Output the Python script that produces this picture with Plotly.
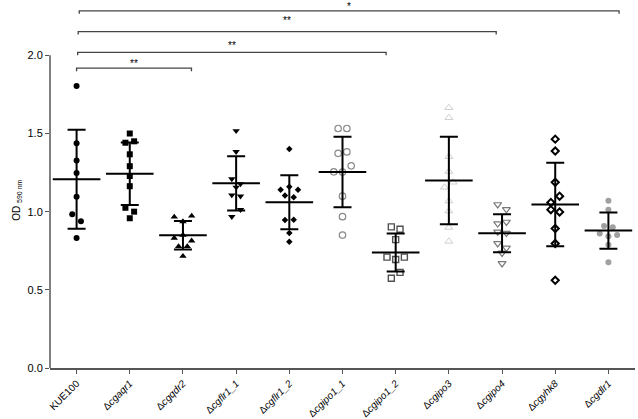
"""Biofilm OD590 scatter (mean +/- SD) per strain, with significance brackets."""

import numpy as np
import plotly.graph_objects as go

# ---- data (OD 590 nm), values listed row by row, left to right ----
strains = ["KUE100", "Δcgaqr1", "Δcgqdr2", "Δcgflr1_1", "Δcgflr1_2", "Δcgipo1_1",
           "Δcgipo1_2", "Δcgipo3", "Δcgipo4", "Δcgyhk8", "Δcgdlr1"]

kue100 = [1.804, 1.437, 1.327, 1.247, 1.095, 0.983, 0.939, 0.831]
cgaqr1 = [1.500, 1.441, 1.450, 1.367, 1.291, 1.228, 1.163, 1.025, 1.000, 0.958]
cgqdr2 = [0.966, 0.937, 0.973, 0.831, 0.850, 0.814, 0.778, 0.778, 0.715]
cgflr1_1 = [1.517, 1.384, 1.209, 1.177, 1.156, 1.106, 1.099, 0.968, 1.013]
cgflr1_2 = [1.401, 1.141, 1.160, 1.141, 1.103, 1.093, 0.947, 0.949, 0.863, 0.808]
cgipo1_1 = [1.532, 1.532, 1.373, 1.382, 1.255, 1.253, 1.293, 1.099, 0.968, 0.850]
cgipo1_2 = [0.903, 0.888, 0.821, 0.709, 0.694, 0.709, 0.574, 0.612]
cgipo3 = [1.665, 1.601, 1.352, 1.257, 1.156, 1.188, 1.068, 1.004, 0.899, 0.810]
cgipo4 = [1.046, 1.015, 0.924, 0.934, 0.871, 0.863, 0.797, 0.768, 0.736, 0.669]
cgyhk8 = [1.464, 1.388, 1.188, 1.059, 1.099, 1.013, 0.998, 0.892, 0.796, 0.561]
cgdlr1 = [1.070, 1.013, 0.909, 0.901, 0.861, 0.842, 0.850, 0.789, 0.677]

groups = [kue100, cgaqr1, cgqdr2, cgflr1_1, cgflr1_2, cgipo1_1,
          cgipo1_2, cgipo3, cgipo4, cgyhk8, cgdlr1]

# significance brackets: (from, to, level, label)
brackets = [
    (0.0, 2.16, 1.918, "**"),
    (0.02, 5.82, 2.019, "**"),
    (0.03, 7.89, 2.152, "**"),
    (0.05, 10.2, 2.285, "*"),
]
star_heights = [1.965, 2.08, 2.245, 2.333]

# ---- styling ----
W, H = 638, 419
M_L, M_R, M_T, M_B = 50, 3, 0, 47
Y_MAX = 2.354
AXIS_COL = "#555555"
FONT = "Liberation Sans, Arial, sans-serif"

styles = [
    dict(symbol="circle", size=6, color="black"),
    dict(symbol="square", size=6, color="black"),
    dict(symbol="triangle-up", size=6.5, color="black"),
    dict(symbol="triangle-down", size=6.5, color="black"),
    dict(symbol="diamond", size=5, color="black"),
    dict(symbol="circle-open", size=6.5, color="#8a8a8a", line=dict(width=1.2, color="#8a8a8a")),
    dict(symbol="square-open", size=6, color="#505050", line=dict(width=1.4, color="#505050")),
    dict(symbol="triangle-up-open", size=7, color="#cfcfcf", line=dict(width=1, color="#cfcfcf")),
    dict(symbol="triangle-down-open", size=7, color="#7a7a7a", line=dict(width=1.2, color="#7a7a7a")),
    dict(symbol="diamond-open", size=5.5, color="black", line=dict(width=2, color="black")),
    dict(symbol="circle", size=6, color="#a0a0a0"),
]

px_per_unit = (H - M_T - M_B) / Y_MAX
px_per_cat = (W - M_L - M_R) / 11.0
BIN_PX = 7.4      # points closer than this (vertically) share a row
SPACING_PX = 8.7  # horizontal spacing of points in one row


def swarm_offsets(values):
    '''Spread points that nearly overlap into side-by-side rows (GraphPad-like).'''
    vals = np.asarray(values)
    order = np.argsort(-vals, kind="stable")
    offsets = np.zeros(len(vals))
    i = 0
    while i < len(order):
        row = [order[i]]
        j = i + 1
        while j < len(order) and (vals[order[i]] - vals[order[j]]) * px_per_unit < BIN_PX:
            row.append(order[j])
            j += 1
        row.sort()
        n = len(row)
        for k, idx in enumerate(row):
            offsets[idx] = (k - (n - 1) / 2) * SPACING_PX / px_per_cat
        i = j
    return offsets


fig = go.Figure()

# individual points
for i, vals in enumerate(groups):
    st = dict(styles[i])
    if "line" not in st:
        st["line"] = dict(width=0)
    fig.add_trace(go.Scatter(
        x=i + swarm_offsets(vals),
        y=vals,
        mode="markers",
        marker=st,
        hoverinfo="y",
        showlegend=False,
    ))

# mean +/- SD on top
for i, vals in enumerate(groups):
    arr = np.asarray(vals)
    fig.add_trace(go.Scatter(
        x=[i],
        y=[arr.mean()],
        mode="markers",
        marker=dict(symbol="line-ew", size=34, color="black",
                    line=dict(width=2, color="black")),
        error_y=dict(type="data", array=[arr.std(ddof=1)], thickness=2,
                     width=9, color="black"),
        showlegend=False,
    ))

shapes = [
    # y axis line only up to 2.0
    dict(type="line", xref="paper", yref="y", x0=0, x1=0, y0=0, y1=2.0,
         line=dict(color=AXIS_COL, width=1.5)),
]
annotations = []
drop = 3 / px_per_unit
for (x0, x1, lvl, lab), sy in zip(brackets, star_heights):
    shapes.append(dict(
        type="path", xref="x", yref="y",
        path=f"M {x0},{lvl - drop} L {x0},{lvl} L {x1},{lvl} L {x1},{lvl - drop}",
        line=dict(color="#444444", width=1.3),
    ))
    annotations.append(dict(
        x=(x0 + x1) / 2, y=sy, xref="x", yref="y", text=lab, showarrow=False,
        yanchor="middle", yshift=-3, font=dict(size=10, color="black", family=FONT),
    ))

annotations.append(dict(
    x=-41 / (W - M_L - M_R), y=1.07, xref="paper", yref="y",
    text="OD <sub>590 nm</sub>", showarrow=False, textangle=-90,
    font=dict(size=10, color="black", family=FONT),
))

ticktext = [s if not s.startswith("Δ") else "Δ<i>" + s[1:] + "</i>" for s in strains]

fig.update_layout(
    width=W, height=H,
    margin=dict(l=M_L, r=M_R, t=M_T, b=M_B),
    plot_bgcolor="white", paper_bgcolor="white",
    font=dict(family=FONT, size=10, color="black"),
    shapes=shapes,
    annotations=annotations,
    xaxis=dict(
        range=[-0.5, 10.5], tickvals=list(range(11)), ticktext=ticktext,
        tickangle=-45, ticks="outside", ticklen=4, tickcolor=AXIS_COL, tickwidth=1.3,
        showline=True, linecolor=AXIS_COL, linewidth=1.5,
        showgrid=False, zeroline=False, tickfont=dict(size=10),
    ),
    yaxis=dict(
        range=[0, Y_MAX], tickvals=[0, 0.5, 1.0, 1.5, 2.0],
        ticktext=["0.0", "0.5", "1.0", "1.5", "2.0"],
        ticks="outside", ticklen=4, tickcolor=AXIS_COL, tickwidth=1.3,
        showline=False, showgrid=False, zeroline=False, tickfont=dict(size=11),
    ),
)

# page body has a default 8px margin; drop it so the figure sits at the window origin
fig.write_html("out.html", config={"displayModeBar": False},
               post_script="document.body.style.margin='0';")
